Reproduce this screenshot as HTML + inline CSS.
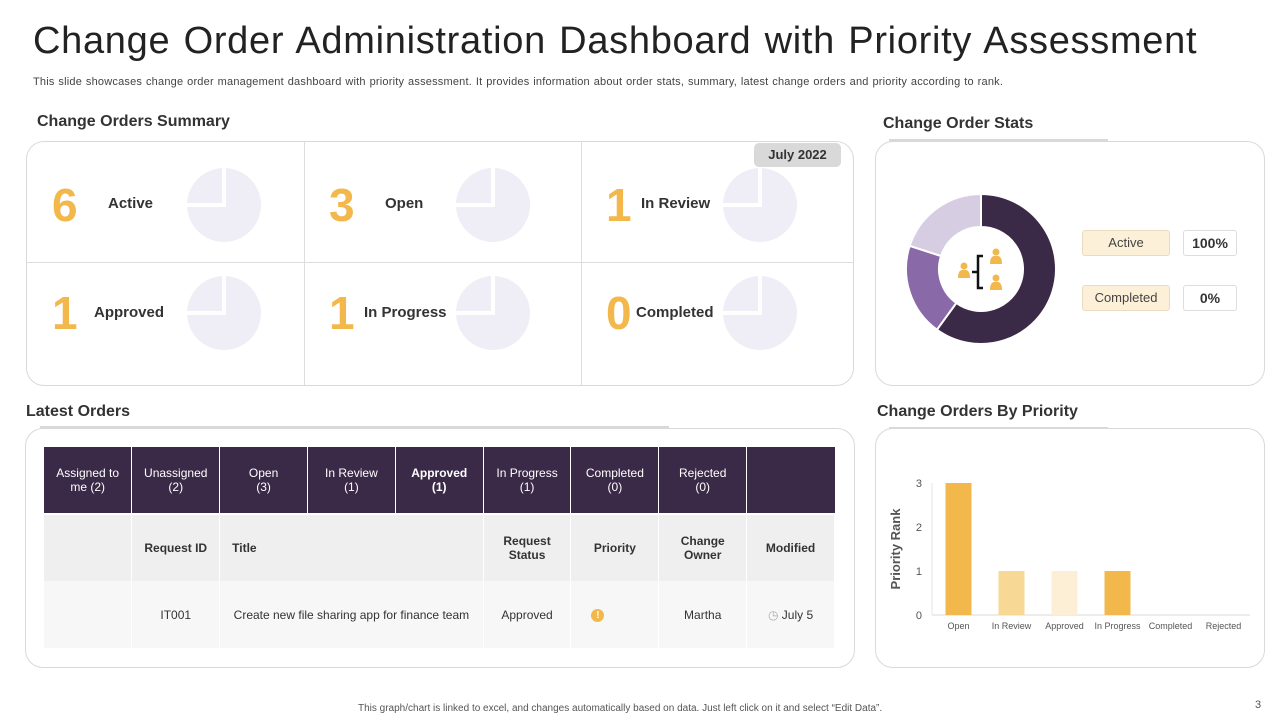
<!DOCTYPE html>
<html><head><meta charset="utf-8">
<style>
*{box-sizing:border-box;margin:0;padding:0}
body{width:1280px;height:720px;background:#fff;font-family:"Liberation Sans",sans-serif;position:relative;overflow:hidden;color:#222}
.abs{position:absolute}
.panel{position:absolute;border:1px solid #d9d9d9;border-radius:18px;background:#fff}
.sec{position:absolute;font-size:16px;font-weight:bold;color:#333}
.bar-under{position:absolute;height:4px;background:#d9d9d9}
.cell{position:absolute;width:277px;height:122px}
.num{position:absolute;font-size:46px;font-weight:bold;color:#f2b84b;line-height:52px}
.lbl{position:absolute;font-size:15px;font-weight:bold;color:#333}
table{border-collapse:collapse;position:absolute;left:44px;top:447px;width:791px;table-layout:fixed}
td{font-size:12px;text-align:center;vertical-align:middle;height:67px;padding:0 4px}
.hd td{background:#3b2a47;color:#fff;border-right:1px solid #fff;border-bottom:2px solid #fff}
.r2 td{background:#efefef;font-weight:bold;color:#333;border-right:1px solid #fff}
.r3 td{background:#f7f7f7;color:#333;border-right:1px solid #fff}
</style></head><body>
<div class="abs" style="left:33px;top:20px;font-size:38px;color:#222;letter-spacing:0.7px;word-spacing:2px">Change Order Administration Dashboard with Priority Assessment</div>
<div class="abs" style="left:33px;top:76px;font-size:11px;color:#444;letter-spacing:0.2px;word-spacing:0.6px">This slide showcases change order management dashboard with priority assessment. It provides information about order stats, summary, latest change orders and priority according to rank.</div>

<div class="sec" style="left:37px;top:113px">Change Orders Summary</div>
<div class="panel" style="left:26px;top:141px;width:828px;height:245px">
 <div class="abs" style="left:277px;top:0;width:1px;height:243px;background:#ddd"></div>
 <div class="abs" style="left:554px;top:0;width:1px;height:243px;background:#ddd"></div>
 <div class="abs" style="left:0;top:120px;width:826px;height:1px;background:#ddd"></div>
</div>
<div class="abs" style="left:754px;top:143px;width:87px;height:24px;background:#d9d9d9;border-radius:5px;font-size:13px;font-weight:bold;color:#333;text-align:center;line-height:24px">July 2022</div>
<div id="cells"></div>

<div class="sec" style="left:883px;top:115px">Change Order Stats</div>
<div class="bar-under" style="left:889px;top:139px;width:219px"></div>
<div class="panel" style="left:875px;top:141px;width:390px;height:245px"></div>
<svg class="abs" id="donut" style="left:900px;top:188px" width="162" height="162"></svg>
<div class="abs" style="left:1082px;top:230px;width:88px;height:26px;background:#fcf0d9;border:1px solid #eadcc0;border-radius:3px;font-size:13px;color:#444;text-align:center;line-height:24px">Active</div>
<div class="abs" style="left:1183px;top:230px;width:54px;height:26px;border:1px solid #ddd;border-radius:3px;font-size:14px;font-weight:bold;color:#333;text-align:center;line-height:24px">100%</div>
<div class="abs" style="left:1082px;top:285px;width:88px;height:26px;background:#fcf0d9;border:1px solid #eadcc0;border-radius:3px;font-size:13px;color:#444;text-align:center;line-height:24px">Completed</div>
<div class="abs" style="left:1183px;top:285px;width:54px;height:26px;border:1px solid #ddd;border-radius:3px;font-size:14px;font-weight:bold;color:#333;text-align:center;line-height:24px">0%</div>

<div class="sec" style="left:26px;top:403px">Latest Orders</div>
<div class="bar-under" style="left:40px;top:426px;width:629px"></div>
<div class="panel" style="left:25px;top:428px;width:830px;height:240px"></div>
<table>
<tr class="hd"><td>Assigned to me (2)</td><td>Unassigned (2)</td><td>Open<br>(3)</td><td>In Review<br>(1)</td><td style="font-weight:bold">Approved<br>(1)</td><td>In Progress<br>(1)</td><td>Completed<br>(0)</td><td>Rejected<br>(0)</td><td style="border-right:none"></td></tr>
<tr class="r2"><td></td><td>Request ID</td><td colspan="3" style="text-align:left;padding-left:12px">Title</td><td>Request Status</td><td>Priority</td><td>Change Owner</td><td>Modified</td></tr>
<tr class="r3"><td></td><td>IT001</td><td colspan="3">Create new file sharing app for finance team</td><td>Approved</td><td style="text-align:left;padding-left:20px"><span style="display:inline-block;width:13px;height:13px;border-radius:50%;background:#f2b84b;color:#fff;font-size:10px;line-height:13px;text-align:center;font-weight:bold">!</span></td><td>Martha</td><td><span style="color:#aaa">◷</span> July 5</td></tr>
</table>

<div class="sec" style="left:877px;top:403px">Change Orders By Priority</div>
<div class="bar-under" style="left:889px;top:427px;width:219px"></div>
<div class="panel" style="left:875px;top:428px;width:390px;height:240px"></div>
<svg class="abs" id="bars" style="left:875px;top:428px" width="390" height="240"></svg>

<div class="abs" style="left:358px;top:703px;font-size:10px;color:#555">This graph/chart is linked to excel, and changes automatically based on data. Just left click on it and select “Edit Data”.</div>
<div class="abs" style="left:1255px;top:699px;font-size:11px;color:#555">3</div>

<script>
const NS="http://www.w3.org/2000/svg";
const summaryLabels=["Active","Open","In Review","Approved","In Progress","Completed"];
const summaryValues=[6,3,1,1,1,0];
const donutLabels=["Active","In Progress","Other"];
const donutValues=[6,2,2];
const barCategories=["Open","In Review","Approved","In Progress","Completed","Rejected"];
const barValues=[3,1,1,1,0,0];
const yTicks=[0,1,2,3];

function mk(tag,attrs,parent){const e=document.createElementNS(NS,tag);for(const k in attrs)e.setAttribute(k,attrs[k]);parent.appendChild(e);return e;}

const cells=document.getElementById('cells');
summaryValues.forEach((v,i)=>{
  const col=i%3,row=Math.floor(i/3);
  const x=26+col*277,y=141+row*120;
  const d=document.createElement('div');d.className='cell';d.style.left=x+'px';d.style.top=y+'px';
  
  
  d.innerHTML='<div class="num" style="left:26px;top:'+(row?26:38)+'px">'+v+'</div>'+
   '<div class="lbl" style="left:'+(i===3?68:(i===4?61:(i===5?56:(i===2?61:82))))+'px;top:'+(row?43:54)+'px">'+summaryLabels[i]+'</div>';
  const s=document.createElementNS(NS,'svg');s.setAttribute('width','80');s.setAttribute('height','80');
  s.style.position='absolute';s.style.left=(col===0?158:(col===1?150:140))+'px';s.style.top=(row?12:24)+'px';
  mk('circle',{cx:40,cy:40,r:37,fill:'#efedf5'},s);
  mk('path',{d:'M40 3 V40 H3',stroke:'#fff','stroke-width':4,fill:'none'},s);
  d.appendChild(s);cells.appendChild(d);
});

const dn=document.getElementById('donut');
const cx=81,cy=81,R=75,r=42;
const dColors=["#3b2a47","#8a69a8","#d7cde3"];
const total=donutValues.reduce((a,b)=>a+b,0);
let a0=0;
donutValues.forEach((v,i)=>{
  const a1=a0+v/total*Math.PI*2;
  const p=(a,rad)=>[cx+rad*Math.sin(a),cy-rad*Math.cos(a)];
  const [x0,y0]=p(a0,R),[x1,y1]=p(a1,R),[x2,y2]=p(a1,r),[x3,y3]=p(a0,r);
  const lg=(a1-a0)>Math.PI?1:0;
  const e=mk('path',{d:`M${x0} ${y0} A${R} ${R} 0 ${lg} 1 ${x1} ${y1} L${x2} ${y2} A${r} ${r} 0 ${lg} 0 ${x3} ${y3}Z`,fill:dColors[i],stroke:'#fff','stroke-width':2},dn);
  
  
  a0=a1;
});
mk('circle',{cx:cx,cy:cy,r:r,fill:'#fff'},dn);
[[64,84],[96,70],[96,96]].forEach(([x,y])=>{mk('circle',{cx:x,cy:y-6,r:3.5,fill:'#f2b84b'},dn);mk('path',{d:`M${x-6} ${y+6} Q${x-6} ${y-3} ${x} ${y-2} Q${x+6} ${y-3} ${x+6} ${y+6}Z`,fill:'#f2b84b'},dn);});
mk('path',{d:'M72 84 H77 M83 68 H78 V100 H83',stroke:'#111','stroke-width':2.5,fill:'none'},dn);

const bs=document.getElementById('bars');
const ox=57,oy=187,pw=318,ph=132,ymax=3;
const yS=v=>oy-v/ymax*ph;
const bw=pw/barCategories.length;
const xS=i=>ox+bw*(i+0.5);
const bColors=["#f2b84b","#f7d995","#fcefd6","#f2b84b","#f2b84b","#f2b84b"];
mk('line',{x1:ox,y1:oy,x2:ox+pw,y2:oy,stroke:'#d9d9d9'},bs);
mk('line',{x1:ox,y1:oy,x2:ox,y2:yS(3),stroke:'#e6e6e6'},bs);
yTicks.forEach(t=>{const e=mk('text',{x:ox-10,y:yS(t)+4,'font-size':11,fill:'#555','text-anchor':'end'},bs);e.textContent=t;});
barCategories.forEach((c,i)=>{
  const v=barValues[i];
  if(v>0){const e=mk('rect',{x:xS(i)-13,y:yS(v),width:26,height:oy-yS(v),fill:bColors[i]},bs);
  
  }
  const t=mk('text',{x:xS(i),y:oy+14,'font-size':9,fill:'#555','text-anchor':'middle'},bs);t.textContent=c;
});
const yt=mk('text',{x:0,y:0,'font-size':13,'font-weight':'bold',fill:'#555','text-anchor':'middle',transform:`translate(25 ${yS(1.5)}) rotate(-90)`},bs);
yt.textContent='Priority Rank';


</script>
</body></html>
